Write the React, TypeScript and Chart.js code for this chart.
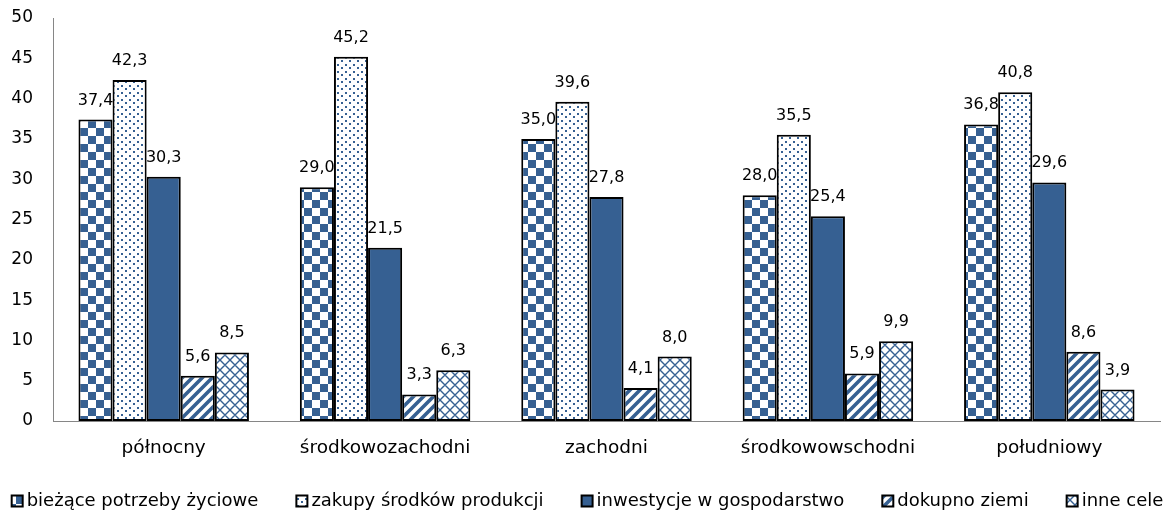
import React, { useEffect, useRef } from "react";
import { Chart, registerables } from "chart.js";

Chart.register(...registerables);

const categories = ["północny", "środkowozachodni", "zachodni", "środkowowschodni", "południowy"];
const seriesNames = [
  "bieżące potrzeby życiowe",
  "zakupy środków produkcji",
  "inwestycje w gospodarstwo",
  "dokupno ziemi",
  "inne cele",
];
const biezace = [37.4, 29.0, 35.0, 28.0, 36.8];
const zakupy = [42.3, 45.2, 39.6, 35.5, 40.8];
const inwestycje = [30.3, 21.5, 27.8, 25.4, 29.6];
const dokupno = [5.6, 3.3, 4.1, 5.9, 8.6];
const inne = [8.5, 6.3, 8.0, 9.9, 3.9];

const BLUE = "#366092";
const FONT = "'DejaVu Sans', sans-serif";

function makePattern(kind: string): CanvasPattern | string {
  const c = document.createElement("canvas");
  const ctx = c.getContext("2d")!;
  if (kind === "checker") {
    c.width = 16; c.height = 16;
    ctx.fillStyle = "#fff"; ctx.fillRect(0, 0, 16, 16);
    ctx.fillStyle = BLUE;
    ctx.fillRect(0, 0, 8, 8); ctx.fillRect(8, 8, 8, 8);
  } else if (kind === "dots") {
    c.width = 8; c.height = 7;
    ctx.fillStyle = "#fff"; ctx.fillRect(0, 0, 8, 7);
    ctx.fillStyle = BLUE;
    ctx.fillRect(1, 1, 2, 2); ctx.fillRect(5, 4, 2, 2);
  } else if (kind === "stripes") {
    c.width = 10; c.height = 10;
    ctx.fillStyle = "#fff"; ctx.fillRect(0, 0, 10, 10);
    ctx.strokeStyle = BLUE; ctx.lineWidth = 3.6;
    ctx.beginPath();
    ctx.moveTo(-5, 5); ctx.lineTo(5, -5);
    ctx.moveTo(0, 10); ctx.lineTo(10, 0);
    ctx.moveTo(5, 15); ctx.lineTo(15, 5);
    ctx.stroke();
  } else if (kind === "cross") {
    c.width = 10; c.height = 10;
    ctx.fillStyle = "#fff"; ctx.fillRect(0, 0, 10, 10);
    ctx.strokeStyle = BLUE; ctx.lineWidth = 1.4;
    ctx.beginPath();
    ctx.moveTo(0, 10); ctx.lineTo(10, 0);
    ctx.moveTo(-5, 5); ctx.lineTo(5, -5);
    ctx.moveTo(5, 15); ctx.lineTo(15, 5);
    ctx.moveTo(0, 0); ctx.lineTo(10, 10);
    ctx.moveTo(-5, 5); ctx.lineTo(5, 15);
    ctx.moveTo(5, -5); ctx.lineTo(15, 5);
    ctx.stroke();
  } else {
    return BLUE;
  }
  return ctx.createPattern(c, "repeat")!;
}

const valueLabels = {
  id: "valueLabels",
  afterDatasetsDraw(chart: any) {
    const ctx = chart.ctx;
    ctx.save();
    ctx.font = `16px ${FONT}`;
    ctx.fillStyle = "#000";
    ctx.textAlign = "center";
    ctx.textBaseline = "alphabetic";
    chart.data.datasets.forEach((ds: any, i: number) => {
      const meta = chart.getDatasetMeta(i);
      meta.data.forEach((el: any, j: number) => {
        const v = ds.data[j] as number;
        ctx.fillText(v.toFixed(1).replace(".", ","), el.x, el.y - 15);
      });
    });
    ctx.restore();
  },
};

const customLegend = {
  id: "customLegend",
  afterDraw(chart: any) {
    const ctx = chart.ctx;
    ctx.save();
    ctx.font = `18px ${FONT}`;
    const box = 11;
    const gapText = 4;
    const gapItem = 38;
    const items = chart.data.datasets.map((ds: any) => ({
      ds,
      w: box + gapText + ctx.measureText(ds.label).width,
    }));
    const total = items.reduce((a: number, it: any) => a + it.w, 0) + gapItem * (items.length - 1);
    let x = (chart.width - total) / 2;
    const cy = 501;
    items.forEach((it: any) => {
      ctx.fillStyle = it.ds.backgroundColor;
      ctx.fillRect(x, cy - box / 2, box, box);
      ctx.lineWidth = 2;
      ctx.strokeStyle = "#000";
      ctx.strokeRect(x, cy - box / 2, box, box);
      ctx.fillStyle = "#000";
      ctx.textAlign = "left";
      ctx.textBaseline = "middle";
      ctx.fillText(it.ds.label, x + box + gapText, cy);
      x += it.w + gapItem;
    });
    ctx.restore();
  },
};

export default function App() {
  const ref = useRef<HTMLCanvasElement>(null);
  useEffect(() => {
    const values = [biezace, zakupy, inwestycje, dokupno, inne];
    const kinds = ["checker", "dots", "solid", "stripes", "cross"];
    const chart = new Chart(ref.current!, {
      type: "bar",
      data: {
        labels: categories,
        datasets: values.map((d, i) => ({
          label: seriesNames[i],
          data: d,
          backgroundColor: makePattern(kinds[i]) as any,
          borderColor: "#000",
          borderWidth: 2,
          borderSkipped: false,
          categoryPercentage: 0.77,
          barPercentage: 1.0,
        })),
      },
      options: {
        animation: false,
        responsive: true,
        maintainAspectRatio: false,
        layout: { padding: { top: 18, right: 15, left: 0, bottom: 51 } },
        plugins: {
          tooltip: { enabled: false },
          legend: { display: false },
        },
        scales: {
          x: {
            grid: { display: false, drawTicks: false },
            border: { display: true, color: "#868686", width: 1 },
            ticks: { color: "#000", font: { family: FONT, size: 18.5 }, padding: 16 },
            afterFit: (s: any) => { s.height = 44; },
          },
          y: {
            min: 0,
            max: 50,
            grid: { display: false, drawTicks: false },
            border: { display: true, color: "#868686", width: 1 },
            ticks: { stepSize: 5, color: "#000", font: { family: FONT, size: 17 }, padding: 20 },
            afterFit: (s: any) => {
              s.width = 53;
              s.paddingTop = 0;
              s.paddingBottom = 0;
            },
          },
        },
      },
      plugins: [valueLabels, customLegend],
    });
    return () => chart.destroy();
  }, []);
  return (
    <div style={{ position: "absolute", left: 0, top: 0, width: 1175, height: 516, background: "#fff" }}>
      <canvas ref={ref} />
    </div>
  );
}
